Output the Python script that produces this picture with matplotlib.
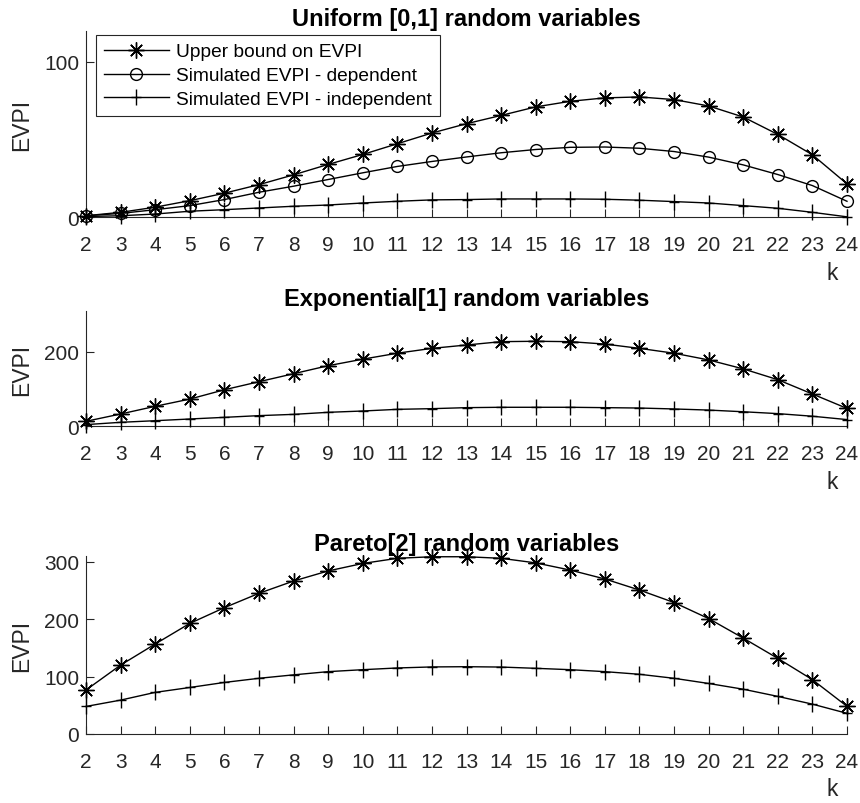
import matplotlib
matplotlib.use("Agg")
import matplotlib.pyplot as plt
import numpy as np
from matplotlib.path import Path

plt.rcParams['font.family'] = ['Liberation Sans', 'DejaVu Sans']

k = list(range(2, 25))

uni_upper = [1, 3.2, 6.5, 10.7, 15.5, 21, 27.3, 34, 40.4, 47.3, 54.2, 60.2, 65.5,
             71, 74.6, 76.8, 77.4, 75.7, 71.6, 64.5, 53.3, 40.2, 21.5]
uni_dep = [1, 2.5, 4.9, 7.5, 11.4, 16.1, 20, 24.3, 28.6, 32.7, 35.9, 38.8, 41.5,
           43.6, 45.0, 45.2, 44.4, 42.3, 38.7, 33.7, 27.5, 20.4, 10.3]
uni_ind = [0.5, 1, 2.1, 3.9, 4.9, 6, 7.1, 7.9, 9.2, 10.3, 11.2, 11.4, 11.8,
           11.8, 11.8, 11.6, 11, 10.1, 9.2, 7.5, 5.8, 3.2, 0.3]

exp_upper = [13.4, 33, 53.6, 73, 98, 119.6, 141, 162.5, 180, 196, 209, 218, 227,
             228, 227, 220.5, 209, 196, 178, 154, 125, 86.6, 48]
exp_ind = [4.5, 10.7, 15, 19.6, 24, 28.6, 32, 37.5, 41, 45.5, 47.3, 50, 51,
           51, 51, 50, 49, 46.5, 43.5, 39, 34, 27, 18]

par_upper = [76.6, 120, 156.7, 192.6, 220, 245, 266.4, 284, 297, 306, 308.7, 308.7,
             306, 298, 285.5, 270, 250.7, 229, 201, 167, 131.7, 94.6, 48.2]
par_ind = [48, 59, 72.5, 81, 89.8, 97, 103, 108.6, 112, 115, 116.8, 117.2,
           116.6, 114.4, 112, 108.6, 104, 97, 88, 78, 65.5, 52, 36]

titles = ["Uniform [0,1] random variables",
          "Exponential[1] random variables",
          "Pareto[2] random variables"]
legend_labels = ["Upper bound on EVPI", "Simulated EVPI - dependent",
                 "Simulated EVPI - independent"]
ylims = [120, 310, 310]
yticks = [[0, 100], [0, 200], [0, 100, 200, 300]]

GRAY = '#262626'
FS_TICK = 15
FS_LABEL = 16.5
FS_TITLE = 17
FS_LEG = 13.8

plus_marker = Path([(-0.6, 0), (0.6, 0), (0, -1), (0, 1)],
                   [Path.MOVETO, Path.LINETO, Path.MOVETO, Path.LINETO])
star_marker = (8, 2, 0)

fig = plt.figure(figsize=(8.6, 8.04), dpi=100)
W, H = 860, 804
left, right = 86, 847
axes_px = [(31.7, 218.3), (311.7, 427.3), (557, 735)]
axs = []
for top, bot in axes_px:
    ax = fig.add_axes([left / W, 1 - bot / H, (right - left) / W, (bot - top) / H])
    axs.append(ax)

series = [
    [(uni_upper, 'star'), (uni_dep, 'circle'), (uni_ind, 'plus')],
    [(exp_upper, 'star'), (exp_ind, 'plus')],
    [(par_upper, 'star'), (par_ind, 'plus')],
]

def style(kind):
    if kind == 'star':
        return dict(marker=star_marker, markersize=11.5, markeredgewidth=1.0)
    if kind == 'circle':
        return dict(marker='o', markersize=8.5, markerfacecolor='none', markeredgewidth=1.0)
    return dict(marker=plus_marker, markersize=12, markeredgewidth=1.0)

for i, ax in enumerate(axs):
    handles = []
    for vals, kind in series[i]:
        h, = ax.plot(k, vals, color='black', lw=1.0, clip_on=False, **style(kind))
        handles.append(h)
    ax.set_xlim(2, 24)
    ax.set_ylim(0, ylims[i])
    ax.set_xticks(k)
    ax.set_yticks(yticks[i])
    for s in ['top', 'right']:
        ax.spines[s].set_visible(False)
    for s in ['left', 'bottom']:
        ax.spines[s].set_color(GRAY)
        ax.spines[s].set_linewidth(0.8)
        ax.spines[s].set_zorder(0.5)
    ax.tick_params(direction='in', length=5.5, width=0.8, color=GRAY,
                   labelcolor=GRAY, labelsize=FS_TICK)
    ax.tick_params(axis='x', pad=13)
    ax.tick_params(axis='y', pad=5)
    ax.set_title(titles[i], fontsize=FS_TITLE, fontweight='bold', pad=4)
    ax.annotate('EVPI', xy=(0, 0.5), xycoords='axes fraction', xytext=(-64, 0),
                textcoords='offset pixels', rotation=90, ha='center', va='center',
                fontsize=FS_LABEL, color=GRAY)
    ax.annotate('k', xy=(1, 0), xycoords='axes fraction', xytext=(-15, -55),
                textcoords='offset pixels', ha='center', va='center',
                fontsize=FS_LABEL, color=GRAY)
    if i == 0:
        leg = ax.legend(handles, legend_labels, loc='upper left',
                        bbox_to_anchor=(9.7 / 761, 1 - 4.3 / 186.6),
                        borderaxespad=0, fontsize=FS_LEG, handlelength=3.4,
                        handletextpad=0.37, labelspacing=0.33, borderpad=0.42,
                        fancybox=False, framealpha=1, edgecolor=GRAY)
        leg.get_frame().set_linewidth(0.8)
        for t in leg.get_texts():
            t.set_color('black')

fig.savefig('out.png', dpi=100)
